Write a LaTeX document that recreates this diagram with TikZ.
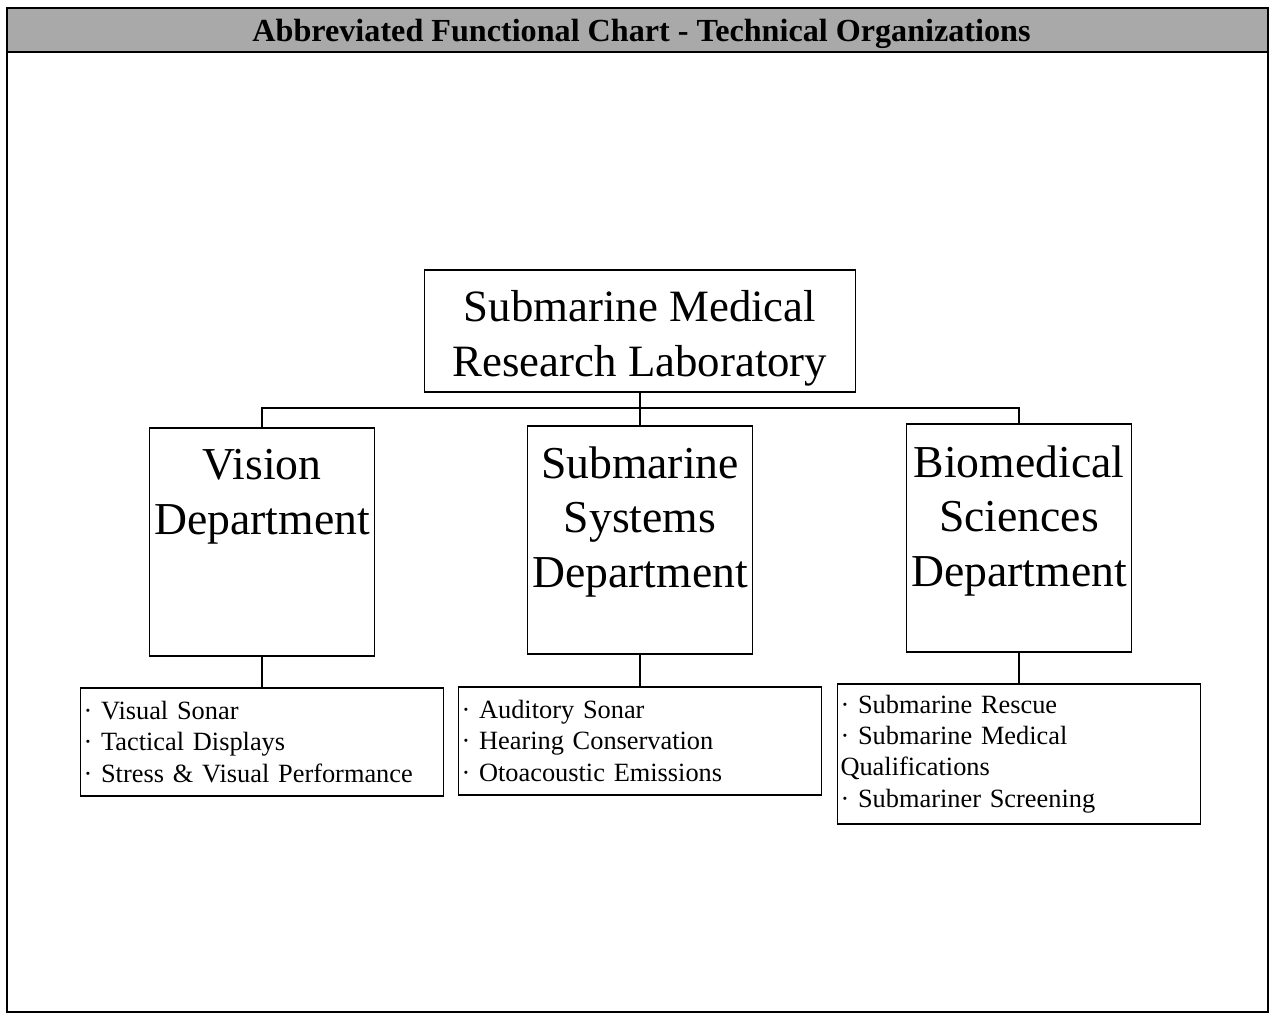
\documentclass[tikz,border=0pt]{standalone}
\usepackage{fontspec}
\setmainfont{Liberation Serif}
\usepackage{xcolor}
\definecolor{chartBar}{HTML}{A9A9A9}
\usetikzlibrary{positioning}
\tikzset{
  labBox/.style={draw, line width=1.1pt, minimum width=8.62cm, minimum height=2.44cm, align=center, font=\fontsize{25.5}{31}\selectfont},
  deptBox/.style={draw, line width=1.1pt, minimum width=4.5cm, minimum height=4.56cm, anchor=north},
  deptText/.style={inner sep=0pt, align=center, font=\fontsize{26}{31}\selectfont},
  listBox/.style={draw, line width=1.1pt, text width=7.14cm, inner xsep=0.06cm, minimum height=2.16cm, align=left, font=\fontsize{15}{17.9}\selectfont},
  link/.style={line width=1.1pt}
}
\begin{document}
\begin{tikzpicture}
  \useasboundingbox (0,0) rectangle (25.5,-20.3);
  % frame and title bar
  \fill[chartBar] (0.14,-0.16) rectangle (25.36,-1.04);
  \draw[line width=1.6pt] (0.14,-0.16) rectangle (25.36,-20.24);
  \draw[line width=1.2pt] (0.14,-1.04) -- (25.36,-1.04);
  \node[font=\bfseries\fontsize{18.3}{22}\selectfont] (title) at (12.83,-0.68) {Abbreviated Functional Chart - Technical Organizations};

  % laboratory and departments
  \node[labBox] (lab) at (12.8,-6.62) {\rule{0pt}{0.92cm}Submarine Medical\\Research Laboratory};
  \node[deptBox] (vis) at (5.24,-8.54) {};
  \node[deptBox] (sub) at (12.8,-8.5) {};
  \node[deptBox] (bio) at (20.38,-8.46) {};
  \node[deptText, below=0.44cm of vis.north] (visT) {Vision\\Department};
  \node[deptText, below=0.42cm of sub.north] (subT) {Submarine\\Systems\\Department};
  \node[deptText, below=0.44cm of bio.north] (bioT) {Biomedical\\Sciences\\Department};

  % functions
  \node[listBox, below=0.6cm of vis] (visL) {· Visual Sonar\\· Tactical Displays\\· Stress \& Visual Performance};
  \node[listBox, below=0.62cm of sub] (subL) {· Auditory Sonar\\· Hearing Conservation\\· Otoacoustic Emissions};
  \node[listBox, below=0.6cm of bio, minimum height=2.8cm] (bioL) {· Submarine Rescue\\· Submarine Medical\\Qualifications\\· Submariner Screening};

  % connectors
  \draw[link] (lab.south) -- ++(0,-0.3) coordinate (bus);
  \draw[link] (vis.north) |- (bus) -| (bio.north);
  \draw[link] (bus) -- (sub.north);
  \draw[link] (vis) -- (visL);
  \draw[link] (sub) -- (subL);
  \draw[link] (bio) -- (bioL);
\end{tikzpicture}
\end{document}
